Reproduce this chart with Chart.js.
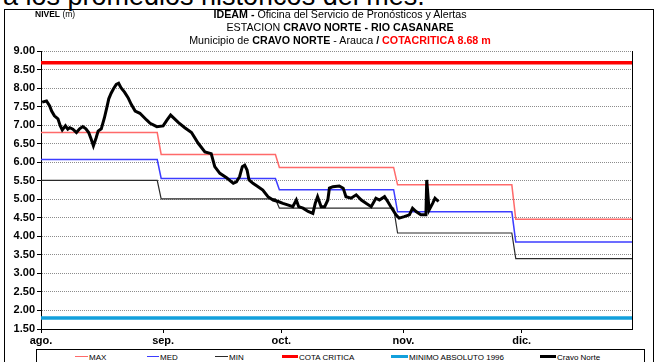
<!DOCTYPE html>
<html lang="es">
<head>
<meta charset="utf-8">
<title>Nivel Cravo Norte</title>
<script src="https://cdn.jsdelivr.net/npm/chart.js@4/dist/chart.umd.min.js"></script>
<style>
  html, body { margin: 0; padding: 0; background: #fff; }
  body { width: 656px; height: 362px; position: relative; overflow: hidden;
         font-family: "Liberation Sans", Arial, sans-serif; color: #000; }
  #texto-sup { position: absolute; left: 3px; top: -17px; font-size: 27px; line-height: 27px; white-space: nowrap; }
  #marco { position: absolute; left: 4px; top: 9px; width: 648px; height: 360px; border: 1px solid #000; background: transparent; }
  #grafico { position: absolute; left: 0; top: 0; }
  .titulo { position: absolute; left: 40px; width: 600px; text-align: center; font-size: 10.7px; line-height: 12px; white-space: nowrap; }
  #nivel { position: absolute; left: 35px; top: 9px; font-size: 8.5px; line-height: 10px; }
  #leyenda { position: absolute; left: 36px; top: 349px; width: 607px; height: 20px; border: 1px solid #000; background: #fff; }
  .item { position: absolute; top: 3px; font-size: 8px; line-height: 10px; white-space: nowrap; }
  .item i { display: inline-block; vertical-align: middle; margin-top: -2px; margin-right: 1px; }
</style>
</head>
<body>
<div id="texto-sup">a los promedios históricos del mes.</div>
<div id="marco"></div>
<canvas id="grafico" width="656" height="362"></canvas>

<div id="nivel"><b>NIVEL</b> (m)</div>
<div class="titulo" style="top:8px"><b>IDEAM -</b> Oficina del Servicio de Pronósticos y Alertas</div>
<div class="titulo" style="top:21px">ESTACION <b>CRAVO NORTE - RIO CASANARE</b></div>
<div class="titulo" style="top:34px">Municipio de <b>CRAVO NORTE</b> - Arauca <b>/</b> <b style="color:#ff0000">COTACRITICA 8.68 m</b></div>

<div id="leyenda"></div>

<script>
/* ---------- datos ---------- */
const mesesEtiquetas = ["ago.", "sep.", "oct.", "nov.", "dic."];
const mesesInicio = [0, 31, 61, 92, 122];   // dia desde 1 de agosto
const diaFinal = 150;
const diasCambio = [30, 60, 90, 120];       // cambio del promedio mensual

const nivelMax = [6.80, 6.21, 5.86, 5.39, 4.46];
const nivelMed = [6.07, 5.56, 5.26, 4.66, 3.85];
const nivelMin = [5.51, 5.01, 4.76, 4.09, 3.40];
const cotaCritica = 8.68;
const minimoAbsoluto = 1.80;

// lecturas de la estacion Cravo Norte
const cravoDias = [
  0.3, 1.4, 2.2, 2.7, 3.4, 4.3, 4.9, 5.4, 6.2, 6.8, 7.3, 8.1, 9.0, 9.8, 10.6, 11.4,
  12.1, 12.7, 13.3, 14.0, 14.5, 15.3, 16.1, 16.7, 17.2, 17.8, 18.4, 19.1, 19.7, 20.3,
  21.2, 22.1, 22.9, 23.9, 25.1, 26.8, 27.7, 29.4, 31.0, 32.0, 32.9, 34.9, 36.5, 38.2,
  39.9, 41.6, 43.2, 44.1, 45.4, 47.1, 48.8, 49.6, 50.4, 51.1, 51.7, 52.3, 52.8, 53.8,
  55.1, 56.3, 57.6, 58.9, 60.2, 61.4, 62.6, 63.9, 64.8, 65.4, 66.5, 67.8, 69.0, 69.6,
  70.2, 71.1, 72.0, 72.8, 73.2, 74.1, 75.7, 76.7, 77.4, 78.7, 80.0, 81.3, 82.5, 83.8,
  85.0, 85.9, 87.2, 88.0, 88.8, 90.1, 90.9, 92.2, 93.5, 94.3, 95.2, 96.4, 97.7, 97.9,
  98.5, 99.4, 100.0, 100.9
];
const cravoNivel = [
  7.62, 7.65, 7.52, 7.38, 7.25, 7.17, 6.98, 6.87, 6.98, 6.89, 6.93, 6.89, 6.80, 6.90, 6.96, 6.90,
  6.80, 6.63, 6.44, 6.66, 6.84, 6.90, 7.20, 7.47, 7.71, 7.86, 7.98, 8.10, 8.13, 8.01,
  7.89, 7.74, 7.56, 7.38, 7.32, 7.14, 7.05, 6.96, 6.98, 7.14, 7.27, 7.07, 6.93, 6.80,
  6.51, 6.28, 6.23, 5.88, 5.70, 5.58, 5.43, 5.47, 5.61, 5.88, 5.92, 5.79, 5.52, 5.43,
  5.34, 5.25, 5.07, 4.98, 4.94, 4.89, 4.85, 4.80, 4.98, 4.80, 4.76, 4.67, 4.62, 4.89,
  5.07, 4.80, 4.80, 4.98, 5.30, 5.34, 5.36, 5.30, 5.07, 5.03, 5.12, 4.98, 4.89, 4.80,
  5.03, 4.98, 5.07, 4.94, 4.80, 4.58, 4.49, 4.53, 4.58, 4.76, 4.67, 4.58, 4.58, 5.52,
  4.71, 4.89, 5.03, 4.94
];

/* ---------- helpers ---------- */
// promedio mensual constante; el salto dura un dia alrededor del cambio
function escalonado(valores) {
  const pts = [{ x: 0, y: valores[0] }];
  diasCambio.forEach((d, i) => {
    pts.push({ x: d - 0.5, y: valores[i] }, { x: d + 0.5, y: valores[i + 1] });
  });
  pts.push({ x: diaFinal, y: valores[valores.length - 1] });
  return pts;
}

function horizontal(v) {
  return [{ x: 0, y: v }, { x: diaFinal, y: v }];
}

const FUENTE = '"Liberation Sans", Arial, sans-serif';

const series = [
  { label: "MAX", data: escalonado(nivelMax), borderColor: "#ff6a6a", borderWidth: 1.5, order: 5, legW: 13 },
  { label: "MED", data: escalonado(nivelMed), borderColor: "#3c3cff", borderWidth: 1.5, order: 4, legW: 12 },
  { label: "MIN", data: escalonado(nivelMin), borderColor: "#2a2a2a", borderWidth: 1.2, order: 3, legW: 13 },
  { label: "COTA CRITICA", data: horizontal(cotaCritica), borderColor: "#ff0000", borderWidth: 3.5, order: 2, legW: 16 },
  { label: "MINIMO ABSOLUTO 1996", data: horizontal(minimoAbsoluto), borderColor: "#12a0dc", borderWidth: 3.5, order: 1, legW: 17 },
  { label: "Cravo Norte", data: cravoDias.map((d, i) => ({ x: d, y: cravoNivel[i] })), borderColor: "#000000", borderWidth: 3, order: 0, legW: 16 }
];

/* ---------- leyenda ---------- */
const posLeyenda = [38, 110, 178, 245, 354, 503];
const leyenda = document.getElementById("leyenda");
series.forEach((s, i) => {
  const el = document.createElement("div");
  el.className = "item";
  el.style.left = posLeyenda[i] + "px";
  const grosor = s.borderWidth > 2 ? 3 : 1.2;
  el.innerHTML = `<i style="width:${s.legW}px;height:${grosor}px;background:${s.borderColor}"></i>${s.label}`;
  leyenda.appendChild(el);
});

/* ---------- borde derecho del area de trazado ---------- */
const bordeDerecho = {
  id: "bordeDerecho",
  afterDraw(chart) {
    const { ctx, chartArea: a } = chart;
    ctx.save();
    ctx.strokeStyle = "#000";
    ctx.lineWidth = 1;
    ctx.beginPath();
    ctx.moveTo(Math.round(a.right) + 0.5, a.top);
    ctx.lineTo(Math.round(a.right) + 0.5, a.bottom);
    ctx.stroke();
    ctx.restore();
  }
};

/* ---------- grafico ---------- */
new Chart(document.getElementById("grafico"), {
  type: "line",
  data: {
    datasets: series.map(s => ({
      label: s.label,
      data: s.data,
      borderColor: s.borderColor,
      borderWidth: s.borderWidth,
      order: s.order,
      pointRadius: 0,
      tension: 0,
      fill: false
    }))
  },
  options: {
    responsive: false,
    animation: false,
    devicePixelRatio: 1,
    layout: { padding: { left: 0, right: 24, top: 51, bottom: 0 } },
    plugins: { legend: { display: false }, tooltip: { enabled: false } },
    scales: {
      x: {
        type: "linear",
        min: 0,
        max: diaFinal,
        afterBuildTicks: scale => { scale.ticks = mesesInicio.map(v => ({ value: v })); },
        afterFit: scale => { scale.height = 33; },
        ticks: {
          autoSkip: false,
          maxRotation: 0,
          padding: 1,
          color: "#000",
          font: { family: FUENTE, size: 11, weight: "bold" },
          callback: v => mesesEtiquetas[mesesInicio.indexOf(v)]
        },
        grid: { drawOnChartArea: false, drawTicks: true, tickLength: 4, tickColor: "#000" },
        border: { color: "#000", width: 1 }
      },
      y: {
        min: 1.5,
        max: 9,
        afterFit: scale => { scale.width = 41; },
        ticks: {
          stepSize: 0.5,
          padding: 2,
          color: "#000",
          font: { family: FUENTE, size: 11, weight: "bold" },
          callback: v => v.toFixed(2)
        },
        grid: {
          color: "#8c8c8c",
          tickLength: 4,
          tickColor: "#000",
          tickBorderDash: []
        },
        border: { color: "#000", width: 1, dash: [1, 1] }
      }
    }
  },
  plugins: [bordeDerecho]
});
</script>
</body>
</html>
